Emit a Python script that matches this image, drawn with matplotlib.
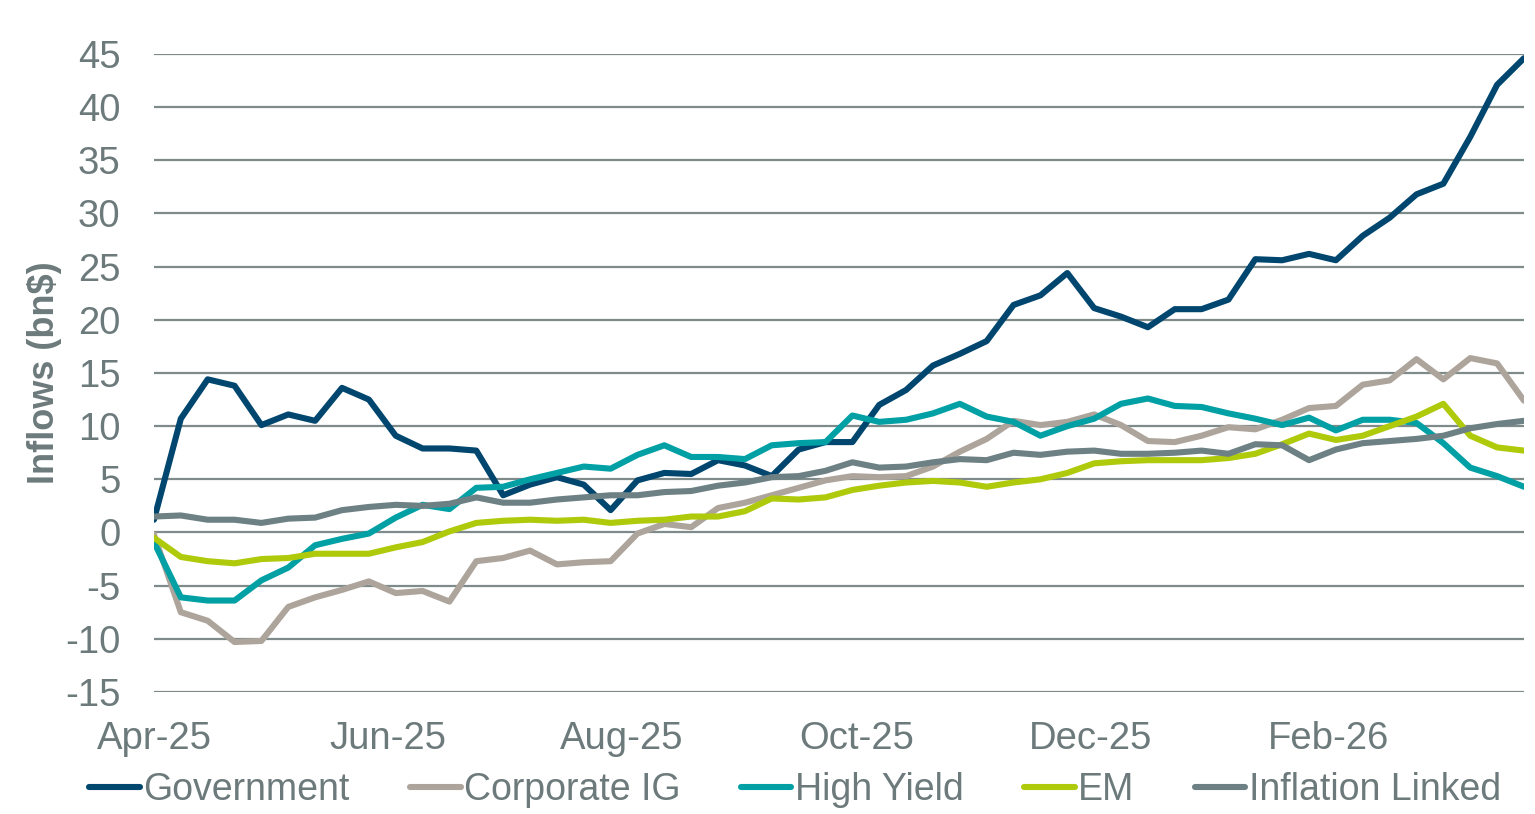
import pandas as pd
import matplotlib.pyplot as plt
import matplotlib.dates as mdates

# weekly cumulative inflows (bn$)
dates = pd.date_range("2025-04-01", periods=52, freq="7D")

government = [1.2, 10.7, 14.4, 13.8, 10.1, 11.1, 10.5, 13.6, 12.5, 9.1, 7.9, 7.9, 7.7,
              3.5, 4.5, 5.2, 4.5, 2.1, 4.9, 5.6, 5.5, 6.8, 6.3, 5.3, 7.8, 8.5, 8.5,
              12.0, 13.4, 15.7, 16.8, 18.0, 21.4, 22.3, 24.4, 21.1, 20.3, 19.3, 21.0,
              21.0, 21.9, 25.7, 25.6, 26.2, 25.6, 27.9, 29.6, 31.8, 32.8, 37.2, 42.1, 44.6]
corporate_ig = [-0.2, -7.5, -8.3, -10.3, -10.2, -7.0, -6.1, -5.4, -4.6, -5.7, -5.5, -6.5, -2.7,
                -2.4, -1.7, -3.0, -2.8, -2.7, -0.1, 0.8, 0.5, 2.3, 2.8, 3.5, 4.2, 4.9, 5.3,
                5.2, 5.3, 6.2, 7.6, 8.8, 10.5, 10.1, 10.4, 11.1, 10.1, 8.6, 8.5,
                9.1, 9.9, 9.7, 10.6, 11.7, 11.9, 13.9, 14.3, 16.3, 14.4, 16.4, 15.9, 12.4]
high_yield = [-0.9, -6.1, -6.4, -6.4, -4.5, -3.3, -1.2, -0.6, -0.1, 1.4, 2.6, 2.2, 4.2,
              4.3, 5.0, 5.6, 6.2, 6.0, 7.3, 8.2, 7.1, 7.1, 6.9, 8.2, 8.4, 8.5, 11.0,
              10.4, 10.6, 11.2, 12.1, 10.9, 10.4, 9.1, 10.0, 10.7, 12.1, 12.6, 11.9,
              11.8, 11.2, 10.7, 10.1, 10.8, 9.6, 10.6, 10.6, 10.3, 8.4, 6.1, 5.3, 4.3]
em = [-0.5, -2.3, -2.7, -2.9, -2.5, -2.4, -2.0, -2.0, -2.0, -1.4, -0.9, 0.1, 0.9,
      1.1, 1.2, 1.1, 1.2, 0.9, 1.1, 1.2, 1.5, 1.5, 2.0, 3.2, 3.1, 3.3, 4.0,
      4.4, 4.7, 4.85, 4.7, 4.3, 4.7, 5.0, 5.6, 6.5, 6.7, 6.8, 6.8,
      6.8, 7.0, 7.4, 8.3, 9.3, 8.7, 9.1, 10.0, 10.9, 12.1, 9.1, 8.0, 7.7]
inflation_linked = [1.5, 1.6, 1.2, 1.2, 0.9, 1.3, 1.4, 2.1, 2.4, 2.6, 2.5, 2.7, 3.3,
                    2.8, 2.8, 3.1, 3.3, 3.5, 3.5, 3.8, 3.9, 4.4, 4.7, 5.2, 5.3, 5.8, 6.6,
                    6.1, 6.2, 6.6, 6.9, 6.8, 7.5, 7.3, 7.6, 7.7, 7.4, 7.4, 7.5,
                    7.7, 7.4, 8.3, 8.2, 6.8, 7.8, 8.4, 8.6, 8.8, 9.1, 9.8, 10.2, 10.5]

series_names = ["Government", "Corporate IG", "High Yield", "EM", "Inflation Linked"]
series_values = [government, corporate_ig, high_yield, em, inflation_linked]
colors = ["#00466E", "#ADA59C", "#00A0A4", "#AFCA0B", "#6D8185"]

text_color = "#6D7A7B"
plt.rcParams["font.family"] = ["Liberation Sans", "DejaVu Sans"]
plt.rcParams["axes.unicode_minus"] = False

fig = plt.figure(figsize=(15.35, 8.14), dpi=100)
ax = fig.add_axes([0.1003, 0.1499, 0.8925, 0.7838])

for name, vals, c in zip(series_names, series_values, colors):
    ax.plot(dates, vals, color=c, linewidth=4.4, label=name,
            solid_joinstyle="round", solid_capstyle="round")

ax.set_ylim(-15, 45)
ax.set_yticks(range(-15, 50, 5))
ax.set_xlim(dates[0], dates[-1])
ticks = pd.to_datetime(["2025-04-01", "2025-06-01", "2025-08-01",
                        "2025-10-01", "2025-12-01", "2026-02-01"])
ax.set_xticks(ticks)
ax.xaxis.set_major_formatter(mdates.DateFormatter("%b-%y"))

ax.grid(axis="y", color="#7F8A8B", linewidth=1.6)
ax.set_axisbelow(True)
for s in ax.spines.values():
    s.set_visible(False)
ax.tick_params(axis="y", length=0, pad=24, labelsize=27.5, labelcolor=text_color)
ax.tick_params(axis="x", length=0, pad=21, labelsize=27.5, labelcolor=text_color)

ax.set_ylabel("Inflows (bn$)", fontsize=26, fontweight="bold", color=text_color, labelpad=2)

leg = fig.legend(loc="center", bbox_to_anchor=(0.518, 0.029), ncol=5, frameon=False,
                 fontsize=27, handlelength=1.35, handletextpad=0.1, columnspacing=1.6)
for t in leg.get_texts():
    t.set_color(text_color)

fig.savefig("out.png", dpi=100)
